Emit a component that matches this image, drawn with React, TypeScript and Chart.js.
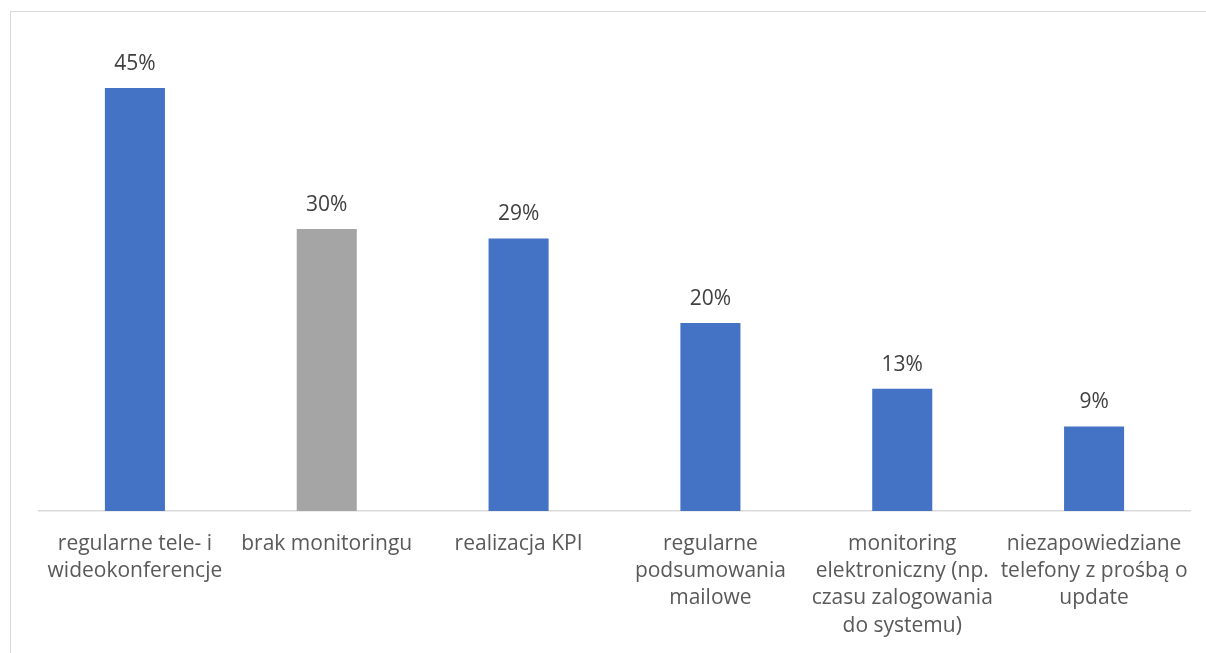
import React, { useEffect, useRef } from "react";
import { Chart, registerables } from "chart.js";

Chart.register(...registerables);

const categories: string[][] = [
  ["regularne tele- i", "wideokonferencje"],
  ["brak monitoringu"],
  ["realizacja KPI"],
  ["regularne", "podsumowania", "mailowe"],
  ["monitoring", "elektroniczny (np.", "czasu zalogowania", "do systemu)"],
  ["niezapowiedziane", "telefony z prośbą o", "update"],
];
const values: number[] = [45, 30, 29, 20, 13, 9];
const barColors: string[] = ["#4472C4", "#A5A5A5", "#4472C4", "#4472C4", "#4472C4", "#4472C4"];

const FONT = "'Open Sans', Lato, sans-serif";

// Percentage label drawn above each bar
const valueLabels = {
  id: "valueLabels",
  afterDatasetsDraw(chart: any) {
    const ctx = chart.ctx;
    const meta = chart.getDatasetMeta(0);
    ctx.save();
    ctx.font = `21px ${FONT}`;
    ctx.fillStyle = "#404040";
    ctx.textAlign = "center";
    ctx.textBaseline = "middle";
    meta.data.forEach((bar: any, i: number) => {
      ctx.fillText(`${values[i]}%`, bar.x, bar.y - 24);
    });
    ctx.restore();
  },
};

export default function App() {
  const canvasRef = useRef<HTMLCanvasElement | null>(null);

  useEffect(() => {
    if (!canvasRef.current) return;
    const chart = new Chart(canvasRef.current, {
      type: "bar",
      data: {
        labels: categories,
        datasets: [
          {
            data: values,
            backgroundColor: barColors,
            barPercentage: 0.313,
            categoryPercentage: 1,
          },
        ],
      },
      options: {
        responsive: false,
        animation: false,
        layout: { padding: { left: 39, right: 16, top: 41, bottom: 0 } },
        plugins: {
          legend: { display: false },
          tooltip: { enabled: false },
        },
        scales: {
          y: { display: false, min: 0, max: 50 },
          x: {
            afterFit: (scale: any) => {
              scale.height = 142;
            },
            grid: { display: false },
            border: { display: true, color: "#D9D9D9", width: 1.5 },
            ticks: {
              color: "#595959",
              font: { family: FONT, size: 21, lineHeight: 1.286 },
              padding: 12,
              maxRotation: 0,
              minRotation: 0,
              autoSkip: false,
            },
          },
        },
      },
      plugins: [valueLabels],
    });
    return () => chart.destroy();
  }, []);

  return (
    <div style={{ position: "absolute", left: 0, top: 0, width: 1206, height: 653, background: "#fff", overflow: "hidden" }}>
      <div
        style={{
          position: "absolute",
          left: 10,
          top: 11,
          width: 1300,
          height: 800,
          border: "1.5px solid #D9D9D9",
        }}
      />
      <canvas ref={canvasRef} width={1206} height={653} style={{ position: "absolute", left: 0, top: 0 }} />
    </div>
  );
}
